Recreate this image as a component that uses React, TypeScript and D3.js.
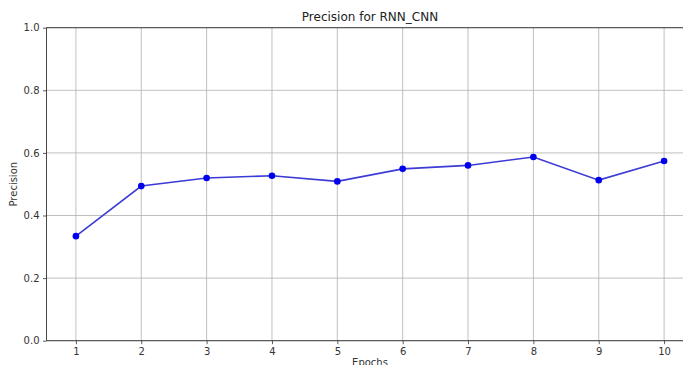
import * as d3 from "d3";
import React, { useRef, useEffect } from "react";

const epochs: number[] = [1, 2, 3, 4, 5, 6, 7, 8, 9, 10];
const precision: number[] = [0.334, 0.494, 0.52, 0.527, 0.509, 0.549, 0.56, 0.587, 0.513, 0.574];
const yTicks: number[] = [0.0, 0.2, 0.4, 0.6, 0.8, 1.0];

const App: React.FC = () => {
  const svgRef = useRef<SVGSVGElement>(null);

  useEffect(() => {
    const svg = d3.select(svgRef.current);
    svg.selectAll("*").remove();

    const width = 683;
    const height = 365;
    const marginTop = 27.7;
    const marginBottom = 24.3;
    const marginLeft = 46.5;
    const plotRight = 693.5;
    const font = "DejaVu Sans, sans-serif";

    const x = d3.scaleLinear().domain([0.55, 10.45]).range([marginLeft, plotRight]);
    const y = d3.scaleLinear().domain([0, 1]).range([height - marginBottom, marginTop]);

    svg.attr("width", width).attr("height", height).attr("viewBox", `0 0 ${width} ${height}`);
    svg.append("rect").attr("width", width).attr("height", height).attr("fill", "white");

    // grid
    const grid = svg.append("g").attr("stroke", "#b0b0b0").attr("stroke-width", 0.8);
    grid.selectAll("line.v").data(epochs).join("line")
      .attr("class", "v")
      .attr("x1", d => x(d)).attr("x2", d => x(d))
      .attr("y1", y(0)).attr("y2", y(1));
    grid.selectAll("line.h").data(yTicks).join("line")
      .attr("class", "h")
      .attr("x1", marginLeft).attr("x2", plotRight)
      .attr("y1", d => y(d)).attr("y2", d => y(d));

    // x axis
    svg.append("g")
      .attr("transform", `translate(0,${y(0)})`)
      .call(d3.axisBottom(x).tickValues(epochs).tickFormat(d3.format("d")).tickSize(3.5).tickPadding(3.5))
      .call(g => g.select(".domain").remove())
      .call(g => g.selectAll(".tick line").attr("stroke", "#333").attr("stroke-width", 0.8))
      .call(g => g.selectAll(".tick text").attr("font-family", font).attr("font-size", 10).attr("fill", "#333"));

    // y axis
    svg.append("g")
      .attr("transform", `translate(${marginLeft},0)`)
      .call(d3.axisLeft(y).tickValues(yTicks).tickFormat(d3.format(".1f")).tickSize(3.5).tickPadding(3.5))
      .call(g => g.select(".domain").remove())
      .call(g => g.selectAll(".tick line").attr("stroke", "#333").attr("stroke-width", 0.8))
      .call(g => g.selectAll(".tick text").attr("font-family", font).attr("font-size", 10).attr("fill", "#333"));

    // spines
    const spines = svg.append("g").attr("stroke", "#333").attr("stroke-width", 0.9);
    spines.append("line").attr("x1", marginLeft).attr("x2", marginLeft).attr("y1", y(0)).attr("y2", y(1));
    spines.append("line").attr("x1", marginLeft).attr("x2", plotRight).attr("y1", y(0)).attr("y2", y(0));
    spines.append("line").attr("x1", marginLeft).attr("x2", plotRight).attr("y1", y(1)).attr("y2", y(1));

    // line
    const line = d3.line<number>()
      .x((d, i) => x(epochs[i]))
      .y(d => y(d));

    svg.append("path")
      .datum(precision)
      .attr("fill", "none")
      .attr("stroke", "#3b3bd6")
      .attr("stroke-width", 1.6)
      .attr("d", line);

    svg.append("g")
      .attr("fill", "#0000ee")
      .selectAll("circle")
      .data(precision)
      .join("circle")
      .attr("cx", (d, i) => x(epochs[i]))
      .attr("cy", d => y(d))
      .attr("r", 3.3);

    // title and labels
    svg.append("text")
      .attr("x", (marginLeft + plotRight) / 2)
      .attr("y", 21)
      .attr("text-anchor", "middle")
      .attr("font-family", font)
      .attr("font-size", 12)
      .attr("fill", "#222")
      .text("Precision for RNN_CNN");

    svg.append("text")
      .attr("x", (marginLeft + plotRight) / 2)
      .attr("y", 366)
      .attr("text-anchor", "middle")
      .attr("font-family", font)
      .attr("font-size", 10)
      .attr("fill", "#333")
      .text("Epochs");

    svg.append("text")
      .attr("transform", `translate(17,${y(0.5)}) rotate(-90)`)
      .attr("text-anchor", "middle")
      .attr("font-family", font)
      .attr("font-size", 10)
      .attr("fill", "#333")
      .text("Precision");
  }, []);

  return (
    <svg ref={svgRef} style={{ position: "absolute", left: 0, top: 0 }}></svg>
  );
};

export default App;
